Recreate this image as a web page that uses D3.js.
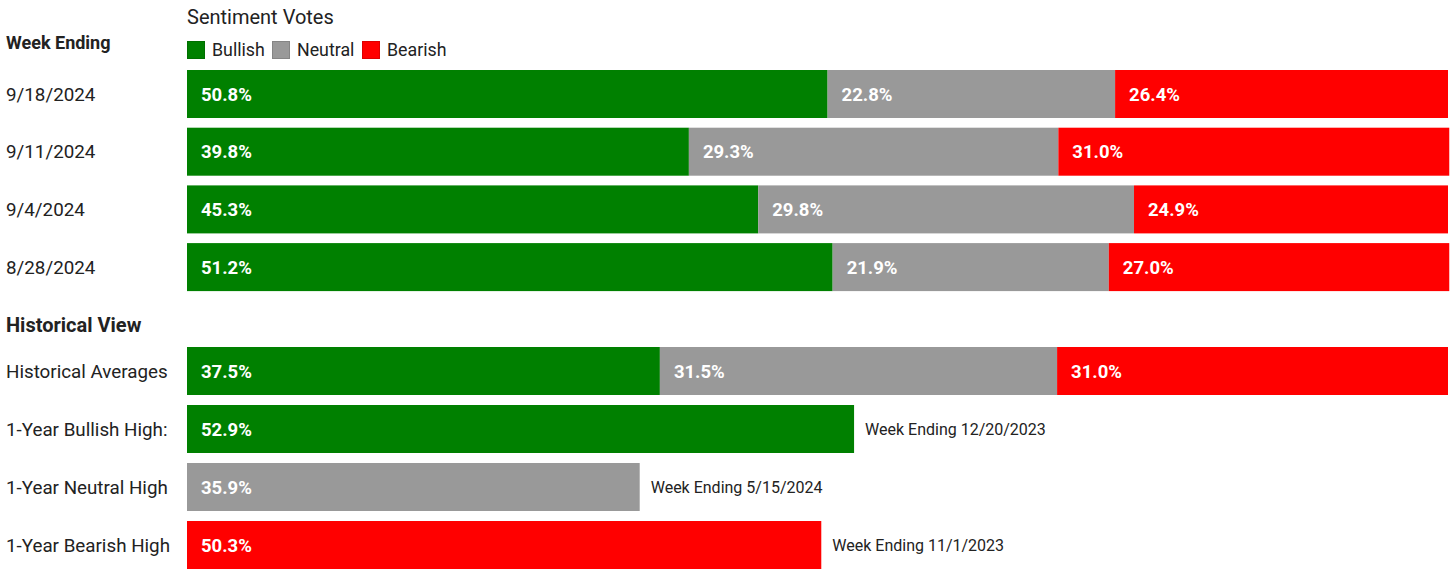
<!DOCTYPE html>
<html><head><meta charset="utf-8">
<script src="https://cdn.jsdelivr.net/npm/d3@7"></script>
<style>body{margin:0;background:#fff;font-family:Roboto,"Noto Sans",sans-serif;}</style>
</head><body><svg id="c" width="1456" height="572"></svg>
<script>
const weeks = ["9/18/2024","9/11/2024","9/4/2024","8/28/2024"];
const bullish = [50.8,39.8,45.3,51.2];
const neutral = [22.8,29.3,29.8,21.9];
const bearish = [26.4,31.0,24.9,27.0];
const seriesNames = ["Bullish","Neutral","Bearish"];
const colors = ["#008000","#999999","#ff0000"];
const histLabels = ["Historical Averages","1-Year Bullish High:","1-Year Neutral High","1-Year Bearish High"];
const histBullish = [37.5,52.9,0,0];
const histNeutral = [31.5,0,35.9,0];
const histBearish = [31.0,0,0,50.3];
const histNotes = ["","Week Ending 12/20/2023","Week Ending 5/15/2024","Week Ending 11/1/2023"];

const svg = d3.select("#c");
const x = d3.scaleLinear().domain([0,100]).range([187,1448]);
const color = d3.scaleOrdinal().domain(seriesNames).range(colors);
const barH = 48;

svg.append("text").attr("x",187).attr("y",24).attr("font-size",20).attr("fill","#222").text("Sentiment Votes");
svg.append("text").attr("x",6).attr("y",49).attr("font-size",18).attr("font-weight",700).attr("fill","#222").text("Week Ending");
svg.append("text").attr("x",6).attr("y",332).attr("font-size",20).attr("font-weight",700).attr("fill","#222").text("Historical View");

const legX = [187,272,362];
seriesNames.forEach((s,i)=>{
  svg.append("rect").attr("x",legX[i]+0.5).attr("y",41.5).attr("width",17).attr("height",17)
    .attr("fill",color(s)).attr("stroke",d3.color(color(s)).darker(0.4));
  svg.append("text").attr("x",legX[i]+25).attr("y",56).attr("font-size",17.8).attr("fill","#222").text(s);
});

function drawGroup(labels, b, n, r, top, step, notes){
  const y = d3.scaleBand().domain(labels).range([top, top+step*labels.length]).padding(0);
  const rows = labels.map((l,i)=>({label:l, vals:[b[i],n[i],r[i]], note: notes? notes[i] : ""}));
  const stack = d3.stack().keys([0,1,2]).value((d,k)=>d.vals[k]);
  const data = stack(rows);
  data.forEach((layer,k)=>{
    layer.forEach((seg,i)=>{
      const v = rows[i].vals[k];
      if(!v) return;
      svg.append("rect").attr("x",x(seg[0])).attr("y",y(rows[i].label)).attr("width",x(seg[1])-x(seg[0])).attr("height",barH)
        .attr("fill",colors[k]);
      svg.append("text").attr("x",x(seg[0])+14).attr("y",y(rows[i].label)+barH/2+6.5).attr("font-size",18.5).attr("font-weight",700)
        .attr("fill","#fff").text(v.toFixed(1)+"%");
    });
  });
  rows.forEach(r=>{
    svg.append("text").attr("x",6).attr("y",y(r.label)+barH/2+6.5).attr("font-size",18.8).attr("fill","#222").text(r.label);
    if(r.note){
      const tot = r.vals[0]+r.vals[1]+r.vals[2];
      svg.append("text").attr("x",x(tot)+11).attr("y",y(r.label)+barH/2+6).attr("font-size",16).attr("fill","#222").text(r.note);
    }
  });
}
drawGroup(weeks, bullish, neutral, bearish, 70, 57.7, null);
drawGroup(histLabels, histBullish, histNeutral, histBearish, 347, 58, histNotes);
</script></body></html>
